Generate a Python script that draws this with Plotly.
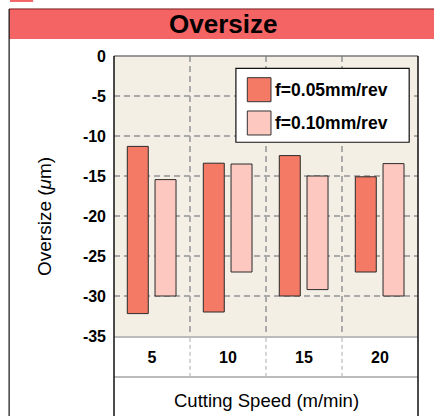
import plotly.graph_objects as go

speeds = ["5", "10", "15", "20"]
f005_top = [-11.3, -13.4, -12.45, -15.1]
f005_bottom = [-32.2, -32.0, -30.0, -27.0]
f010_top = [-15.45, -13.5, -15.0, -13.45]
f010_bottom = [-30.0, -27.0, -29.2, -30.0]
series_names = ["f=0.05mm/rev", "f=0.10mm/rev"]
yticks = [0, -5, -10, -15, -20, -25, -30, -35]

C1 = "#F47A66"
C2 = "#FDC8BF"
FONT = "Arial, Liberation Sans, sans-serif"

xpos = list(range(len(speeds)))
fig = go.Figure()
fig.add_trace(go.Bar(
    x=xpos, base=f005_bottom, y=[t - b for t, b in zip(f005_top, f005_bottom)],
    width=0.276, offset=-0.325, name=series_names[0],
    marker=dict(color=C1, line=dict(color="#2a2a2a", width=1)), showlegend=False))
fig.add_trace(go.Bar(
    x=xpos, base=f010_bottom, y=[t - b for t, b in zip(f010_top, f010_bottom)],
    width=0.276, offset=0.04, name=series_names[1],
    marker=dict(color=C2, line=dict(color="#2a2a2a", width=1)), showlegend=False))

shapes = []
# title bar
shapes.append(dict(type="rect", xref="paper", yref="paper", x0=-0.345, x1=1.06, y0=1.0607, y1=1.168,
                   fillcolor="#F46464", line=dict(width=0), layer="below"))
shapes.append(dict(type="line", xref="paper", yref="paper", x0=-0.345, x1=1.06, y0=1.168, y1=1.168,
                   line=dict(color="#7A1E1E", width=1)))
shapes.append(dict(type="rect", xref="paper", yref="paper", x0=-0.342, x1=-0.266, y0=1.193, y1=1.21,
                   fillcolor="#F46464", line=dict(width=0)))
# outer frame left line
shapes.append(dict(type="line", xref="paper", yref="paper", x0=-0.345, x1=-0.345, y0=-0.3, y1=1.168,
                   line=dict(color="#111", width=1.2)))
# separators in category band
for v in [0.5, 1.5, 2.5]:
    shapes.append(dict(type="line", xref="x", yref="paper", x0=v, x1=v, y0=-0.146, y1=0,
                       line=dict(color="#AAAAAA", width=1, dash="4px,3px")))
# band bottom line
shapes.append(dict(type="line", xref="paper", yref="paper", x0=0, x1=1, y0=-0.146, y1=-0.146,
                   line=dict(color="#BBBBBB", width=2)))
# top border
shapes.append(dict(type="line", xref="paper", yref="paper", x0=0, x1=1, y0=1, y1=1,
                   line=dict(color="#7a7a7a", width=1.5)))
# left / right black lines
for xv in [0, 1]:
    shapes.append(dict(type="line", xref="paper", yref="paper", x0=xv, x1=xv, y0=-0.3, y1=1,
                       line=dict(color="#111", width=1.5)))
# legend box
shapes.append(dict(type="rect", xref="paper", yref="paper", x0=0.401, x1=0.971, y0=0.692, y1=0.956,
                   fillcolor="white", line=dict(color="#111", width=1.2)))
shapes.append(dict(type="rect", xref="paper", yref="paper", x0=0.4385, x1=0.5164, y0=0.8368, y1=0.9225,
                   fillcolor=C1, line=dict(color="#333", width=1)))
shapes.append(dict(type="rect", xref="paper", yref="paper", x0=0.4385, x1=0.5164, y0=0.7179, y1=0.8036,
                   fillcolor=C2, line=dict(color="#333", width=1)))

annotations = [
    dict(text="<b>Oversize</b>", xref="paper", yref="paper", x=0.357, y=1.114, showarrow=False,
         font=dict(family=FONT, size=26, color="black"), xanchor="center", yanchor="middle"),
    dict(text="<b>" + series_names[0] + "</b>", xref="paper", yref="paper", x=0.522, y=0.8796,
         showarrow=False, xanchor="left", yanchor="middle", font=dict(family=FONT, size=17.5, color="black")),
    dict(text="<b>" + series_names[1] + "</b>", xref="paper", yref="paper", x=0.522, y=0.7607,
         showarrow=False, xanchor="left", yanchor="middle", font=dict(family=FONT, size=17.5, color="black")),
    dict(text="Oversize (<i>μ</i>m)", xref="paper", yref="paper", x=(44 - 114) / 304, y=0.425,
         showarrow=False, textangle=-90, xanchor="center", yanchor="middle",
         font=dict(family=FONT, size=19, color="black")),
    dict(text="Cutting Speed (m/min)", xref="paper", yref="paper", x=0.5, y=-0.2286,
         showarrow=False, xanchor="center", yanchor="middle",
         font=dict(family=FONT, size=18.5, color="black")),
]

fig.update_layout(
    width=434, height=416,
    margin=dict(l=114, r=16, t=56, b=80, autoexpand=False),
    paper_bgcolor="white", plot_bgcolor="#F3EFE5",
    barmode="overlay",
    shapes=shapes, annotations=annotations,
    font=dict(family=FONT, color="black"),
    xaxis=dict(
        range=[-0.5, 3.5], tickvals=xpos, ticktext=["<b>%s</b>" % s for s in speeds],
        showgrid=False, zeroline=False, showline=True, linecolor="#BBBBBB", linewidth=2,
        ticks="", ticklabelstandoff=6, tickfont=dict(size=16, family=FONT),
        minor=dict(tickvals=[0.5, 1.5, 2.5], showgrid=True, gridcolor="#AAAAAA",
                   griddash="6px,4px", gridwidth=1.5, ticks=""),
        automargin=False, fixedrange=True,
    ),
    yaxis=dict(
        range=[-35, 0], tickvals=yticks, ticktext=["<b>%d</b>" % v for v in yticks],
        showgrid=True, gridcolor="#AAAAAA", griddash="6px,4px", gridwidth=1.5,
        zeroline=False, ticks="", ticklabelstandoff=7, tickfont=dict(size=16, family=FONT),
        automargin=False, fixedrange=True,
    ),
)

fig.write_html("out.html", config={"displayModeBar": False},
               post_script="document.body.style.margin='0px';")
